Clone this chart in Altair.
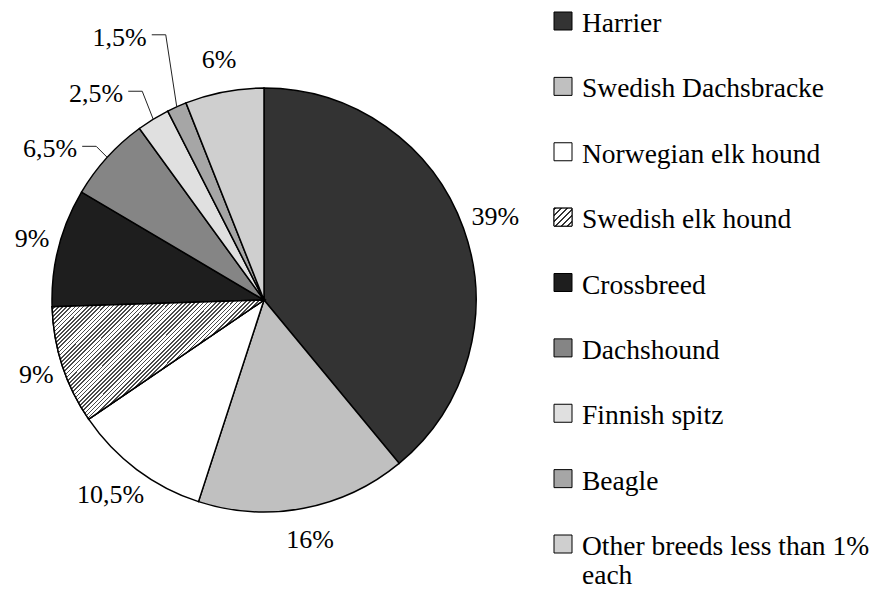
import altair as alt
import pandas as pd

# ---- data ----
breeds = [
    "Harrier",
    "Swedish Dachsbracke",
    "Norwegian elk hound",
    "Swedish elk hound",
    "Crossbreed",
    "Dachshound",
    "Finnish spitz",
    "Beagle",
    "Other breeds less than 1% each",
]
shares = [39, 16, 10.5, 9, 9, 6.5, 2.5, 1.5, 6]
legend_text = [
    "Harrier",
    "Swedish Dachsbracke",
    "Norwegian elk hound",
    "Swedish elk hound",
    "Crossbreed",
    "Dachshound",
    "Finnish spitz",
    "Beagle",
    "Other breeds less than 1%\neach",
]
# grey levels standing in for the hatch patterns
fills = ["#333333", "#c0c0c0", "#ffffff", "#a8a8a8", "#1e1e1e",
         "#858585", "#e0e0e0", "#a6a6a6", "#cfcfcf"]
# labels that are pulled out with a leader line, and how far they rise
leader_rise = {"Dachshound": 11, "Finnish spitz": 28, "Beagle": 72}
striped = "Swedish elk hound"

R = 212      # pie radius
GAP = 10     # label gap
FS = 26      # label font size
FONT = "'Liberation Serif', 'Times New Roman', Times, serif"

df = pd.DataFrame({
    "breed": breeds,
    "share": shares,
    "order": list(range(len(breeds))),
    "legend": legend_text,
    "rise": [leader_rise.get(b, 0) for b in breeds],
})


def make_hatch(n, x2, y2, ink="#4a4a4a", duty=0.4):
    """Diagonal hatch as a hard-stop linear gradient."""
    stops = []
    for i in range(n):
        a = i / n
        b = (i + duty) / n
        c = (i + 1) / n
        stops += [
            {"offset": a, "color": ink},
            {"offset": b, "color": ink},
            {"offset": b, "color": "#ffffff"},
            {"offset": c, "color": "#ffffff"},
        ]
    return {"gradient": "linear", "x1": 0, "y1": 0, "x2": x2, "y2": y2, "stops": stops}


hatch_big = make_hatch(80, 1.187, 0.666)
hatch_small = make_hatch(6, 1, 1, ink="#333333", duty=0.35)

color = alt.Color("breed:N", scale=alt.Scale(domain=breeds, range=fills), legend=None)
xs = alt.Scale(domain=[-256, 274])
ys = alt.Scale(domain=[-284, 292])
ts = alt.Scale(domain=[0, 100])

arcs = alt.Chart(df).mark_arc(radius=R, stroke="black", strokeWidth=1.5).encode(
    theta=alt.Theta("share:Q", stack=True, scale=ts),
    order=alt.Order("order:Q"),
    color=color,
    x=alt.X(datum=0, scale=xs, axis=None),
    y=alt.Y(datum=0, scale=ys, axis=None),
)

base = (
    alt.Chart(df)
    .transform_window(cum="sum(share)", sort=[alt.SortField("order")], frame=[None, 0])
    .transform_calculate(
        start="datum.cum - datum.share",
        mid="(datum.cum - datum.share / 2) / 100 * 2 * PI",
        lab="replace(toString(datum.share), '.', ',') + '%'",
    )
    .transform_calculate(
        sx="sin(datum.mid)",
        cy="cos(datum.mid)",
        hw=f"{FS} * (0.5 * (length(datum.lab) - 1) + 0.833 - (indexof(datum.lab, ',') >= 0 ? 0.25 : 0)) / 2",
    )
    .transform_calculate(
        s="datum.sx < 0 ? -1 : 1",
        ex=f"{R} * datum.sx",
        ey=f"{R} * datum.cy",
    )
    .transform_calculate(
        bx="datum.ex + 11 * datum.s",
        by="datum.ey + datum.rise",
    )
    .transform_calculate(
        hx="datum.bx + 14 * datum.s",
    )
    .transform_calculate(
        lx=f"datum.rise > 0 ? datum.hx + datum.s * (5 + datum.hw) : ({R + GAP} + datum.hw) * datum.sx",
        ly=f"datum.rise > 0 ? datum.by - 3 : ({R + GAP} + 22) * datum.cy",
    )
)

hatched = base.transform_filter(f"datum.breed == '{striped}'").mark_arc(
    radius=R, stroke="black", strokeWidth=1.5, fill=hatch_big
).encode(
    theta=alt.Theta("start:Q", scale=ts),
    theta2="cum:Q",
    x=alt.X(datum=0, scale=xs, axis=None),
    y=alt.Y(datum=0, scale=ys, axis=None),
)

labels = base.mark_text(font=FONT, fontSize=FS, align="center", baseline="middle", color="black").encode(
    x=alt.X("lx:Q", scale=xs, axis=None),
    y=alt.Y("ly:Q", scale=ys, axis=None),
    text="lab:N",
)

lead_h = base.transform_filter("datum.rise > 0").mark_rule(color="#222222", strokeWidth=1).encode(
    x=alt.X("hx:Q", scale=xs, axis=None), x2="bx:Q",
    y=alt.Y("by:Q", scale=ys, axis=None), y2="by:Q",
)
lead_v = base.transform_filter("datum.rise > 0").mark_rule(color="#222222", strokeWidth=1).encode(
    x=alt.X("bx:Q", scale=xs, axis=None), x2="ex:Q",
    y=alt.Y("by:Q", scale=ys, axis=None), y2="ey:Q",
)

pie = alt.layer(arcs, hatched, lead_h, lead_v, labels).properties(width=530, height=576)

leg_y = alt.Y("breed:N", sort=breeds, axis=None,
              scale=alt.Scale(type="point", range=[13, 536], padding=0))
squares = alt.Chart(df).mark_square(size=324, stroke="black", strokeWidth=1, opacity=1).encode(
    y=leg_y, x=alt.value(23), color=color,
)
square_hatch = alt.Chart(df).transform_filter(f"datum.breed == '{striped}'").mark_square(
    size=324, stroke="black", strokeWidth=1, opacity=1, fill=hatch_small
).encode(y=leg_y, x=alt.value(23))
texts = alt.Chart(df).mark_text(
    align="left", baseline="alphabetic", dy=11, font=FONT, fontSize=27.5,
    lineBreak="\n", lineHeight=29, color="black",
).encode(y=leg_y, x=alt.value(42), text="legend:N")

legend = alt.layer(squares, square_hatch, texts).properties(width=332, height=576)

chart = (
    alt.hconcat(pie, legend, spacing=2)
    .properties(padding=0)
    .configure_view(stroke=None)
)

chart.save("out.html", embed_options={"renderer": "svg", "actions": False})
